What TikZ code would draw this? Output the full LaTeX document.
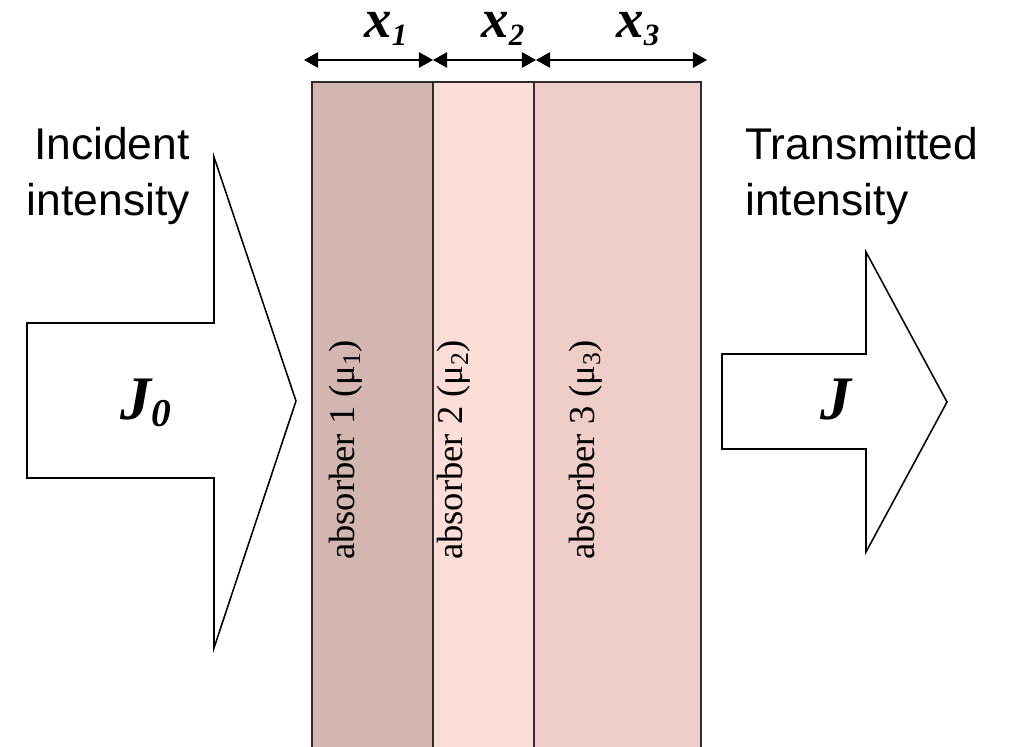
\documentclass[tikz,border=0pt]{standalone}
\usepackage{fontspec}
\setmainfont{Liberation Serif}
\setsansfont{Liberation Sans}
\usetikzlibrary{arrows.meta}
\definecolor{absA}{RGB}{211,181,177}
\definecolor{absB}{RGB}{253,221,216}
\definecolor{absC}{RGB}{239,205,200}
\definecolor{edgegray}{RGB}{45,45,45}
\tikzset{
  layer/.style={draw=edgegray, line width=1.4pt},
  bigarrow/.style={draw=black, line width=1.1pt, fill=white, line join=miter},
  dimline/.style={line width=1pt, {Triangle[length=10pt,width=11pt]}-{Triangle[length=10pt,width=11pt]}},
  dimlabel/.style={anchor=base, inner sep=0pt, font=\fontsize{39}{44}\selectfont\bfseries\itshape},
  abslabel/.style={rotate=90, inner sep=0pt, font=\fontsize{26}{30}\selectfont},
  sidelabel/.style={inner sep=0pt, font=\sffamily\fontsize{31.6}{39.8}\selectfont},
  jlabel/.style={inner sep=0pt, font=\fontsize{44}{50}\selectfont\bfseries\itshape}
}
\newcommand{\lowsub}[1]{\raisebox{-0.14em}{\fontsize{22}{26}\selectfont\bfseries\itshape #1}}
\begin{document}
\begin{tikzpicture}[x=0.025cm, y=-0.025cm]
\useasboundingbox (0,0) rectangle (1012,747);
\clip (0,0) rectangle (1012,747);
% absorber layers
\fill[absA] (312,82) rectangle (433,760);
\fill[absB] (433,82) rectangle (534,760);
\fill[absC] (534,82) rectangle (701,760);
\draw[layer] (312,760) -- (312,82) -- (701,82) -- (701,760);
\draw[layer] (433,82) -- (433,760);
\draw[layer] (534,82) -- (534,760);
\node[abslabel] (a1) at (346,450) {absorber 1 (μ\textsubscript{1})};
\node[abslabel] (a2) at (454,450) {absorber 2 (μ\textsubscript{2})};
\node[abslabel] (a3) at (586,450) {absorber 3 (μ\textsubscript{3})};
% dimension arrows
\coordinate (d0) at (304,60);
\coordinate (d1) at (433,60);
\coordinate (d2) at (536,60);
\coordinate (d3) at (707,60);
\draw[dimline] (d0) -- (d1);
\draw[dimline] (d1) -- (d2);
\draw[dimline] (d2) -- (d3);
\node[dimlabel] (x1) at (386,38) {x\lowsub{1}};
\node[dimlabel] (x2) at (503,38) {x\lowsub{2}};
\node[dimlabel] (x3) at (638,38) {x\lowsub{3}};
% incident arrow
\draw[bigarrow] (27,323) -- (214,323) -- (214,157) -- (296,401) -- (214,648) -- (214,478) -- (27,478) -- cycle;
\node[jlabel] (J0) at (146,403) {J\raisebox{-0.1em}{\fontsize{28}{32}\selectfont\bfseries\itshape 0}};
\node[sidelabel, align=right, anchor=north east] (inc) at (190,127) {Incident\\intensity};
% transmitted arrow
\draw[bigarrow] (722,354) -- (866,354) -- (866,252) -- (947,402) -- (866,552) -- (866,449) -- (722,449) -- cycle;
\node[jlabel] (J) at (836,400) {J};
\node[sidelabel, align=left, anchor=north west] (trans) at (745,127) {Transmitted\\intensity};
\end{tikzpicture}
\end{document}
